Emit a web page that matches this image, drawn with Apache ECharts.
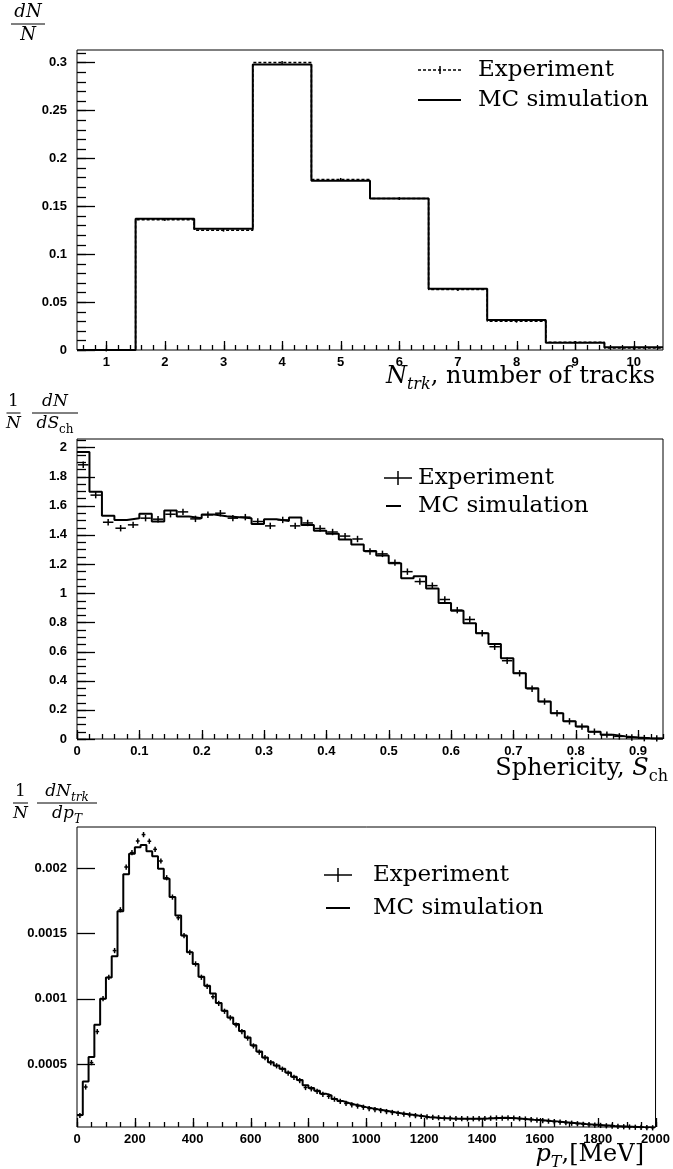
<!DOCTYPE html>
<html>
<head>
<meta charset="utf-8">
<script src="https://cdn.jsdelivr.net/npm/echarts@6/dist/echarts.min.js"></script>
<style>
html, body { margin: 0; padding: 0; background: #fff; }
#main { width: 673px; height: 1169px; }
</style>
</head>
<body>
<div id="main"></div>
<script>
// number of tracks, bins centred on integers (0.5 .. 10.5)
var nTrkLo = 0.5, nTrkWidth = 1;
var nTrkMC  = [0, 0.137, 0.1265, 0.298, 0.1766, 0.158, 0.064, 0.0313, 0.0076, 0.0028];
var nTrkExp = [0, 0.136, 0.125, 0.300, 0.178, 0.158, 0.063, 0.030, 0.008, 0.002];
var nTrkErr = 0.0015;

// sphericity, 0.02 bins (0 .. 0.94)
var sphLo = 0, sphWidth = 0.02;
var sphMC = [1.968, 1.696, 1.531, 1.503, 1.515, 1.545, 1.492, 1.567, 1.526, 1.515,
             1.540, 1.528, 1.522, 1.515, 1.475, 1.508, 1.495, 1.520, 1.468, 1.428,
             1.408, 1.368, 1.334, 1.290, 1.258, 1.206, 1.103, 1.117, 1.032, 0.933,
             0.880, 0.794, 0.726, 0.652, 0.554, 0.451, 0.348, 0.258, 0.177, 0.121,
             0.085, 0.050, 0.030, 0.018, 0.010, 0.006, 0.004];
var sphExp = [1.881, 1.673, 1.487, 1.446, 1.469, 1.515, 1.508, 1.542, 1.558, 1.510,
              1.538, 1.549, 1.515, 1.522, 1.492, 1.462, 1.503, 1.462, 1.482, 1.444,
              1.420, 1.392, 1.372, 1.286, 1.270, 1.210, 1.148, 1.080, 1.052, 0.957,
              0.884, 0.820, 0.726, 0.633, 0.537, 0.451, 0.345, 0.257, 0.177, 0.121,
              0.085, 0.050, 0.030, 0.018, 0.010, 0.006, 0.004];
var sphErr = 0.022;

// transverse momentum, 20 MeV bins (0 .. 2000)
var ptLo = 0, ptWidth = 20;
var ptMC = [0.000111, 0.000367, 0.000556, 0.000801, 0.001001, 0.001164, 0.001325, 0.001670, 0.001952, 0.002110,
            0.002160, 0.002176, 0.002128, 0.002090, 0.001995, 0.001919, 0.001778, 0.001637, 0.001484, 0.001356,
            0.001267, 0.001169, 0.001100, 0.001041, 0.000968, 0.000909, 0.000857, 0.000807, 0.000755, 0.000704,
            0.000646, 0.000597, 0.000552, 0.000515, 0.000490, 0.000465, 0.000436, 0.000405, 0.000380, 0.000340,
            0.000318, 0.000297, 0.000275, 0.000262, 0.000235, 0.000218, 0.000203, 0.000192, 0.000182, 0.000172,
            0.000163, 0.000155, 0.000148, 0.000140, 0.000132, 0.000126, 0.000120, 0.000114, 0.000108, 0.000103,
            0.000095, 0.000092, 0.000089, 0.000087, 0.000085, 0.000084, 0.000083, 0.000083, 0.000083, 0.000084,
            0.000085, 0.000087, 0.000089, 0.000091, 0.000089, 0.000086, 0.000083, 0.000080, 0.000076, 0.000073,
            0.000070, 0.000066, 0.000063, 0.000059, 0.000055, 0.000051, 0.000047, 0.000043, 0.000040, 0.000037,
            0.000034, 0.000031, 0.000028, 0.000026, 0.000024, 0.000022, 0.000020, 0.000018, 0.000017, 0.000015];
var ptExp = [0.000108, 0.000326, 0.000512, 0.000750, 0.001001, 0.001164, 0.001369, 0.001681, 0.002008, 0.002118,
             0.002207, 0.002256, 0.002205, 0.002143, 0.002054, 0.001926, 0.001778, 0.001620, 0.001484, 0.001356,
             0.001267, 0.001165, 0.001095, 0.001016, 0.000965, 0.000905, 0.000855, 0.000800, 0.000750, 0.000700,
             0.000640, 0.000592, 0.000550, 0.000512, 0.000488, 0.000462, 0.000432, 0.000400, 0.000375, 0.000322,
             0.000312, 0.000292, 0.000270, 0.000255, 0.000233, 0.000216, 0.000200, 0.000190, 0.000180, 0.000171,
             0.000161, 0.000153, 0.000146, 0.000138, 0.000131, 0.000125, 0.000119, 0.000113, 0.000107, 0.000102,
             0.000097, 0.000094, 0.000091, 0.000088, 0.000086, 0.000085, 0.000084, 0.000083, 0.000083, 0.000084,
             0.000085, 0.000087, 0.000089, 0.000088, 0.000090, 0.000087, 0.000084, 0.000081, 0.000077, 0.000073,
             0.000069, 0.000065, 0.000061, 0.000057, 0.000053, 0.000049, 0.000045, 0.000041, 0.000038, 0.000035,
             0.000032, 0.000029, 0.000026, 0.000024, 0.000022, 0.000020, 0.000018, 0.000017, 0.000015, 0.000014];
var ptErr = 0.00002;

// labelled ticks
var nTrkXTicks = [1, 2, 3, 4, 5, 6, 7, 8, 9, 10];
var nTrkYTicks = [0, 0.05, 0.1, 0.15, 0.2, 0.25, 0.3];
var sphXTicks = [0, 0.1, 0.2, 0.3, 0.4, 0.5, 0.6, 0.7, 0.8, 0.9];
var sphYTicks = [0, 0.2, 0.4, 0.6, 0.8, 1, 1.2, 1.4, 1.6, 1.8, 2];
var ptXTicks = [0, 200, 400, 600, 800, 1000, 1200, 1400, 1600, 1800, 2000];
var ptYTicks = [0.0005, 0.001, 0.0015, 0.002];

var serif = "'DejaVu Serif', serif";
var sans = "'Liberation Sans', Arial, sans-serif";

function ticks(lo, hi, step) {
  var out = [], n = Math.round((hi - lo) / step);
  for (var i = 0; i <= n; i++) out.push(+(lo + i * step).toFixed(8));
  return out;
}
function stepPoints(lo, w, vals) {
  var pts = [];
  for (var i = 0; i < vals.length; i++) pts.push([lo + i * w, vals[i]]);
  pts.push([lo + vals.length * w, vals[vals.length - 1]]);
  return pts;
}
function crossPoints(lo, w, vals, err) {
  return vals.map(function (v, i) { return [lo + i * w, lo + (i + 1) * w, v, err]; });
}
function crossRenderer(withBar) {
  return function (params, api) {
    var x0 = api.value(0), x1 = api.value(1), y = api.value(2), e = api.value(3);
    var xm = (x0 + x1) / 2;
    var l = api.coord([x0, y]), r = api.coord([x1, y]);
    var t = api.coord([xm, y + e]), b = api.coord([xm, y - e]);
    var st = { stroke: '#000', lineWidth: 1.5 };
    var kids = [{ type: 'line', shape: { x1: t[0], y1: t[1], x2: b[0], y2: b[1] }, style: st }];
    if (withBar) kids.push({ type: 'line', shape: { x1: l[0] + 1, y1: l[1], x2: r[0] - 1, y2: r[1] }, style: st });
    return { type: 'group', children: kids };
  };
}

var labelStyle = { fontFamily: sans, fontWeight: 'bold', fontSize: 13, color: '#000', hideOverlap: false };

function xAxisDef(grid, min, max, major) {
  return {
    gridIndex: grid, type: 'value', min: min, max: max, position: 'bottom',
    axisLine: { show: false, onZero: false }, splitLine: { show: false }, axisTick: { show: false },
    axisLabel: Object.assign({ customValues: major, margin: 6, formatter: function (v) { return String(v); } }, labelStyle)
  };
}
function yAxisDef(grid, min, max, major) {
  return {
    gridIndex: grid, type: 'value', min: min, max: max, position: 'left',
    axisLine: { show: false, onZero: false }, splitLine: { show: false }, axisTick: { show: false },
    axisLabel: Object.assign({ customValues: major, margin: 10, formatter: function (v) { return String(v); } }, labelStyle)
  };
}

// text helpers for the LaTeX-like titles
function rich(size) {
  return {
    r: { fontFamily: serif, fontSize: size, lineHeight: size + 3 },
    i: { fontFamily: serif, fontSize: size, fontStyle: 'italic', lineHeight: size + 3 },
    si: { fontFamily: serif, fontSize: Math.round(size * 0.68), fontStyle: 'italic', lineHeight: Math.round(size * 0.68), padding: [Math.round(size * 0.62), 0, 0, 0] },
    sr: { fontFamily: serif, fontSize: Math.round(size * 0.68), lineHeight: Math.round(size * 0.68), padding: [Math.round(size * 0.62), 0, 0, 0] }
  };
}
function txt(x, y, text, size, align, vAlign) {
  return {
    type: 'text', x: x, y: y, silent: true,
    style: { text: text, rich: rich(size), fill: '#000', align: align, verticalAlign: vAlign, textAlign: align, textVerticalAlign: vAlign }
  };
}
function seg(x1, y1, x2, y2, w, dash) {
  return { type: 'line', silent: true, shape: { x1: x1, y1: y1, x2: x2, y2: y2 }, style: { stroke: '#000', lineWidth: w, lineDash: dash || null } };
}
function frac(cx, y, w, num, den, size) {
  return [seg(cx - w / 2, y, cx + w / 2, y, 1), txt(cx, y - 1, num, size, 'center', 'bottom'), txt(cx, y + 1, den, size, 'center', 'top')];
}

var legendSize = 23, titleSize = 24;
var graphics = [].concat(
  // panel 1 titles and legend
  frac(28, 24, 34, '{i|dN}', '{i|N}', 18),
  [txt(655, 377, '{i|N}{si|trk}{r|, number of tracks}', titleSize, 'right', 'middle')],
  [seg(418, 70, 461, 70, 1.5, [3, 2]), seg(440, 66, 440, 74, 1.5), txt(478, 70, '{r|Experiment}', legendSize, 'left', 'middle')],
  [seg(418, 100, 461, 100, 2), txt(478, 100, '{r|MC simulation}', legendSize, 'left', 'middle')],
  // panel 2
  frac(13.5, 413, 14, '{r|1}', '{i|N}', 17),
  frac(55, 413, 46, '{i|dN}', '{i|dS}{sr|ch}', 17),
  [txt(668, 769, '{r|Sphericity, }{i|S}{sr|ch}', titleSize, 'right', 'middle')],
  [seg(384, 478, 412, 478, 1.5), seg(398, 471, 398, 485, 1.5), txt(418, 478, '{r|Experiment}', legendSize, 'left', 'middle')],
  [seg(386, 506, 401, 506, 2), txt(418, 506, '{r|MC simulation}', legendSize, 'left', 'middle')],
  // panel 3
  frac(20.5, 803, 15, '{r|1}', '{i|N}', 17),
  frac(67, 803, 60, '{i|dN}{si|trk}', '{i|dp}{si|T}', 17),
  [txt(644, 1155, '{i|p}{si|T}{r|,[MeV]}', titleSize, 'right', 'middle')],
  [seg(324, 875, 352, 875, 1.5), seg(338, 868, 338, 882, 1.5), txt(373, 875, '{r|Experiment}', legendSize, 'left', 'middle')],
  [seg(326, 908, 350, 908, 2), txt(373, 908, '{r|MC simulation}', legendSize, 'left', 'middle')]
);

var gridBox = { show: true, borderColor: '#000', borderWidth: 1, backgroundColor: 'transparent', containLabel: false };

var option = {
  animation: false,
  backgroundColor: '#fff',
  color: ['#000'],
  grid: [
    Object.assign({ left: 77, top: 50, width: 586, height: 300 }, gridBox),
    Object.assign({ left: 77, top: 439, width: 586, height: 300 }, gridBox),
    Object.assign({ left: 77, top: 827, width: 586, height: 300 }, gridBox)
  ],
  xAxis: [
    xAxisDef(0, 0.5, 10.5, nTrkXTicks),
    xAxisDef(1, 0, 0.94, sphXTicks),
    xAxisDef(2, 0, 2000, ptXTicks)
  ],
  yAxis: [
    yAxisDef(0, 0, 0.313, nTrkYTicks),
    yAxisDef(1, 0, 2.058, sphYTicks),
    yAxisDef(2, 0.00002, 0.002314, ptYTicks)
  ],
  series: [
    { name: 'Experiment', type: 'line', step: 'end', xAxisIndex: 0, yAxisIndex: 0, symbol: 'none',
      lineStyle: { color: '#000', width: 1.5, type: [3, 2] }, data: stepPoints(nTrkLo, nTrkWidth, nTrkExp) },
    { name: 'MC simulation', type: 'line', step: 'end', xAxisIndex: 0, yAxisIndex: 0, symbol: 'none',
      lineStyle: { color: '#000', width: 2 }, data: stepPoints(nTrkLo, nTrkWidth, nTrkMC) },
    { name: 'Experiment', type: 'custom', xAxisIndex: 0, yAxisIndex: 0, renderItem: crossRenderer(false),
      encode: { x: [0, 1], y: [2] }, data: crossPoints(nTrkLo, nTrkWidth, nTrkExp, nTrkErr) },

    { name: 'MC simulation', type: 'line', step: 'end', xAxisIndex: 1, yAxisIndex: 1, symbol: 'none',
      lineStyle: { color: '#000', width: 2 }, data: stepPoints(sphLo, sphWidth, sphMC) },
    { name: 'Experiment', type: 'custom', xAxisIndex: 1, yAxisIndex: 1, renderItem: crossRenderer(true),
      encode: { x: [0, 1], y: [2] }, data: crossPoints(sphLo, sphWidth, sphExp, sphErr) },

    { name: 'MC simulation', type: 'line', step: 'end', xAxisIndex: 2, yAxisIndex: 2, symbol: 'none',
      lineStyle: { color: '#000', width: 2 }, data: stepPoints(ptLo, ptWidth, ptMC) },
    { name: 'Experiment', type: 'custom', xAxisIndex: 2, yAxisIndex: 2, renderItem: crossRenderer(true),
      encode: { x: [0, 1], y: [2] }, data: crossPoints(ptLo, ptWidth, ptExp, ptErr) }
  ],
  graphic: { elements: graphics }
};

var chart = echarts.init(document.getElementById('main'), null, { renderer: 'canvas' });
chart.setOption(option);

// ROOT-style inward tick marks, placed through each grid's own scales,
// snapped to the pixel grid so they come out crisp
function tickMarks(grid, dir, vals, other, len) {
  return vals.map(function (v) {
    var p = chart.convertToPixel({ gridIndex: grid }, dir === 'x' ? [v, other] : [other, v]);
    var x = Math.round(p[0]) + 0.5, y = Math.round(p[1]) + 0.5;
    return dir === 'x' ? seg(x, Math.round(p[1]), x, Math.round(p[1]) - len, 1.3)
                       : seg(Math.round(p[0]), y, Math.round(p[0]) + len, y, 1.3);
  });
}
var tickGraphics = [].concat(
  tickMarks(0, 'x', ticks(0.6, 10.4, 0.2), 0, 5), tickMarks(0, 'x', nTrkXTicks, 0, 9),
  tickMarks(0, 'y', ticks(0, 0.31, 0.01), 0.5, 9), tickMarks(0, 'y', nTrkYTicks, 0.5, 18),
  tickMarks(1, 'x', ticks(0, 0.94, 0.02), 0, 5), tickMarks(1, 'x', sphXTicks, 0, 9),
  tickMarks(1, 'y', ticks(0, 2.05, 0.05), 0, 9), tickMarks(1, 'y', sphYTicks, 0, 18),
  tickMarks(2, 'x', ticks(0, 2000, 50), 0.00002, 5), tickMarks(2, 'x', ptXTicks, 0.00002, 9),
  tickMarks(2, 'y', ptYTicks, 0, 18)
);
chart.setOption({ graphic: { elements: graphics.concat(tickGraphics) } }, { replaceMerge: ['graphic'] });
</script>
</body>
</html>
